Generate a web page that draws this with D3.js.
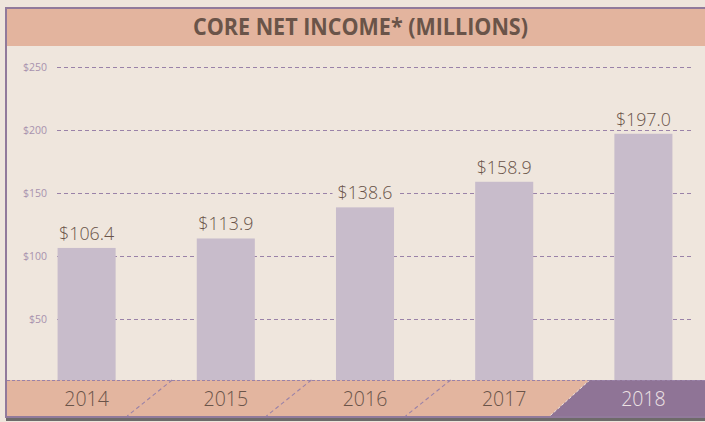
<!DOCTYPE html>
<html><head><meta charset="utf-8">
<script src="https://cdn.jsdelivr.net/npm/d3@7/dist/d3.min.js"></script>
<style>
html,body{margin:0;padding:0;background:#efe6dd;}
svg{display:block;}
</style></head>
<body>
<svg id="c" width="705" height="422"></svg>
<script>
const title = "CORE NET INCOME* (MILLIONS)";
const years = ["2014","2015","2016","2017","2018"];
const values = [106.4, 113.9, 138.6, 158.9, 197.0];
const valueLabels = ["$106.4","$113.9","$138.6","$158.9","$197.0"];
const yTicks = [50, 100, 150, 200, 250];
const yTickLabels = ["$50","$100","$150","$200","$250"];

const svg = d3.select("#c");
const W = 705, H = 422;
const font = "'Open Sans', 'Noto Sans', sans-serif";
const bg = "#efe6dd";

// background
svg.append("rect").attr("x",0).attr("y",0).attr("width",W).attr("height",H).attr("fill","#eee5dc");
// shadow
svg.append("rect").attr("x",6).attr("y",9).attr("width",W).attr("height",412).attr("fill","#6e6a6a");
// frame
svg.append("rect").attr("x",5).attr("y",7).attr("width",W).attr("height",411).attr("fill","#917a9b");
svg.append("rect").attr("x",7).attr("y",9).attr("width",W).attr("height",407).attr("fill",bg);

// title band
svg.append("rect").attr("x",7).attr("y",9).attr("width",W).attr("height",37).attr("fill","#e3b49e");
svg.append("text").attr("x",360.5).attr("y",35).attr("text-anchor","middle")
  .attr("font-family",font)
  .attr("font-weight",700).attr("font-size",23.5).attr("fill","#6a5449")
  .attr("textLength",335).attr("lengthAdjust","spacingAndGlyphs")
  .text(title);

const y = d3.scaleLinear().domain([0,250]).range([382,67]);
const x = d3.scaleBand().domain(years).range([17,713]).paddingInner(0.583).paddingOuter(0.2915);

// gridlines
const grid = svg.append("g");
grid.selectAll("line").data(yTicks).join("line")
  .attr("x1",57).attr("x2",691)
  .attr("y1",d=>Math.round(y(d))+0.5).attr("y2",d=>Math.round(y(d))+0.5)
  .attr("stroke","#9a82a8").attr("stroke-width",1.2).attr("stroke-dasharray","4,3");

// y axis labels
const yAxis = d3.axisLeft(y).tickValues(yTicks).tickSize(0).tickPadding(0)
  .tickFormat((d,i)=>yTickLabels[i]);
const ga = svg.append("g").attr("transform","translate(47,0)").call(yAxis);
ga.select(".domain").remove();
ga.selectAll("text").attr("font-family",font).attr("font-size",10.5).attr("fill","#a892ae");

// bars
svg.append("g").selectAll("rect").data(values).join("rect")
  .attr("x",(d,i)=>x(years[i])).attr("width",x.bandwidth())
  .attr("y",d=>y(d)).attr("height",d=>y(0)-y(d))
  .attr("fill","#c8bccb");

// value labels with knockout background
const lblW = 55;
const lg = svg.append("g");
lg.selectAll("rect").data(values).join("rect")
  .attr("x",(d,i)=>x(years[i])+x.bandwidth()/2 - lblW/2 - 5).attr("width",lblW+10)
  .attr("y",d=>y(d)-26).attr("height",19)
  .attr("fill",bg);
lg.selectAll("text").data(values).join("text")
  .attr("x",(d,i)=>x(years[i])+x.bandwidth()/2).attr("y",d=>y(d)-8)
  .attr("text-anchor","middle").attr("font-family",font).attr("font-weight",300)
  .attr("font-size",18.5).attr("fill","#6a5449")
  .attr("textLength",lblW).attr("lengthAdjust","spacingAndGlyphs")
  .text((d,i)=>valueLabels[i]);

// bottom band
const bandTop = 380, bandBot = 416;
svg.append("rect").attr("x",7).attr("y",bandTop).attr("width",W).attr("height",bandBot-bandTop).attr("fill","#e3b59f");
const step = x.step();
const boundary = d => x(d) + x.bandwidth()/2 - step/2;
// last segment polygon (purple)
const lt = boundary(years[4]) + 16, lb = boundary(years[4]) - 24;
svg.append("polygon")
  .attr("points",[[lt,bandTop],[W,bandTop],[W,bandBot],[lb,bandBot]].map(p=>p.join(",")).join(" "))
  .attr("fill","#8f7496");
svg.append("line").attr("x1",lt).attr("y1",bandTop).attr("x2",lb).attr("y2",bandBot)
  .attr("stroke",bg).attr("stroke-width",1).attr("stroke-dasharray","3,2");
// dashed diagonals between categories
svg.append("g").selectAll("line").data(years.slice(1,4)).join("line")
  .attr("x1",d=>boundary(d) + 16).attr("y1",bandTop)
  .attr("x2",d=>boundary(d) - 29).attr("y2",bandBot)
  .attr("stroke","#9a82a8").attr("stroke-width",1.1).attr("stroke-dasharray","4,3");
// dashed top of band
svg.append("line").attr("x1",7).attr("x2",W).attr("y1",bandTop+0.5).attr("y2",bandTop+0.5)
  .attr("stroke","#9a82a8").attr("stroke-width",1.1).attr("stroke-dasharray","3,2");

// year labels
const xAxis = d3.axisBottom(x).tickSize(0).tickPadding(0);
const gx = svg.append("g").attr("transform","translate(0,392)").call(xAxis);
gx.select(".domain").remove();
gx.selectAll("text").attr("font-family",font).attr("font-size",19.5).attr("font-weight",300)
  .attr("fill",(d,i)=>i===4?"#ece2e4":"#6a5449");
</script>
</body></html>
